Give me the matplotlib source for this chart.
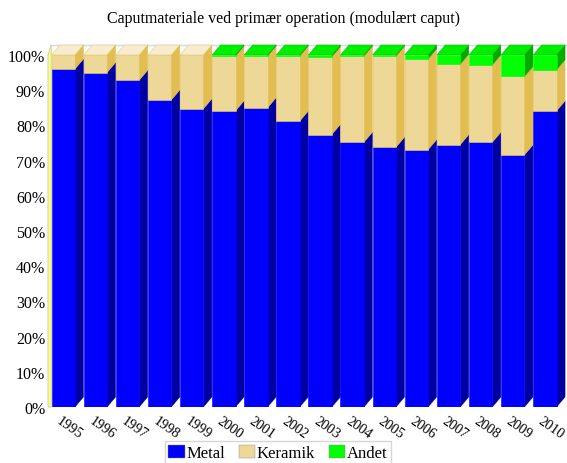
import matplotlib
matplotlib.use("Agg")
import matplotlib.pyplot as plt
from matplotlib.patches import Polygon, Patch

plt.rcParams['font.family'] = ['Liberation Serif', 'DejaVu Serif']

years = [1995, 1996, 1997, 1998, 1999, 2000, 2001, 2002,
         2003, 2004, 2005, 2006, 2007, 2008, 2009, 2010]
metal = [96.0, 95.0, 92.8, 87.2, 84.7, 84.1, 85.0, 81.2,
         77.4, 75.2, 73.8, 73.1, 74.5, 75.2, 71.6, 84.1]
keramik = [4.0, 5.0, 7.2, 12.8, 15.3, 15.6, 14.7, 18.5,
           22.1, 24.5, 25.9, 25.8, 22.9, 22.0, 22.3, 11.7]
andet = [0.0, 0.0, 0.0, 0.0, 0.0, 0.3, 0.3, 0.3,
         0.5, 0.3, 0.3, 1.1, 2.6, 2.8, 6.1, 4.2]

series = [('Metal', metal, '#0000FF', '#0000A0', '#2020FF'),
          ('Keramik', keramik, '#EED898', '#E2BD52', '#F6ECCF'),
          ('Andet', andet, '#00FF00', '#00AA00', '#00EE00')]

WIDTH = 0.73
DX = 0.265   # depth in bar units
DY = 2.84    # depth in percent units

fig = plt.figure(figsize=(5.67, 4.64), dpi=100)
ax = fig.add_axes([48 / 567, 56 / 464, 519 / 567, 362.6 / 464])
ax.set_xlim(-0.475, 15.69)
ax.set_ylim(0, 103)

# left wall and back edge
ax.add_patch(Polygon([(-0.475, 0), (-0.475, 100), (-0.475 + 0.1, 100 + DY),
                      (-0.475 + 0.1, DY), (-0.38, 0)],
                     closed=True, facecolor='#FFFF80', edgecolor='#C8C8A0',
                     lw=0.6, clip_on=False, zorder=1))
ax.plot([-0.38, 15.69], [100 + DY, 100 + DY], color='#D8D8D8', lw=1,
        zorder=0, clip_on=False)

x = list(range(len(years)))
for i in x:
    bottom = 0.0
    top_idx = max(k for k, s in enumerate(series) if s[1][i] > 0)
    for k, (name, vals, front, side, topc) in enumerate(series):
        v = vals[i]
        if v <= 0:
            continue
        ax.bar(i, v, width=WIDTH, bottom=bottom, color=front,
               edgecolor=side if k == 1 else front, lw=0.4, zorder=3)
        xr = i + WIDTH / 2
        ax.add_patch(Polygon([(xr, bottom), (xr + DX, bottom + DY),
                              (xr + DX, bottom + v + DY), (xr, bottom + v)],
                             closed=True, facecolor=side, edgecolor=side,
                             lw=0.3, zorder=2))
        if k == top_idx:
            xl = i - WIDTH / 2
            t = bottom + v
            ax.add_patch(Polygon([(xl, t), (xr, t), (xr + DX, t + DY),
                                  (xl + DX, t + DY)],
                                 closed=True, facecolor=topc, edgecolor=side,
                                 lw=0.3, zorder=2))
        bottom += v

for s in ax.spines.values():
    s.set_visible(False)
ax.set_yticks(range(0, 101, 10))
ax.set_yticklabels([f'{v}%' for v in range(0, 101, 10)], fontsize=11.5)
ax.set_xticks([i - 0.04 for i in x])
ax.set_xticklabels([str(y) for y in years], rotation=-35, ha='left',
                   va='top', rotation_mode='anchor', fontsize=10.2)
ax.tick_params(length=0, pad=2)
ax.tick_params(axis='x', pad=5)

fig.text(0.5, 1 - 19 / 464, 'Caputmateriale ved primær operation (modulært caput)',
         ha='center', va='center', fontsize=11.5)

handles = [Patch(facecolor=s[2], edgecolor='#888888', lw=0.3, label=s[0])
           for s in series]
fig.legend(handles=handles, loc='center', bbox_to_anchor=(0.49, 0.022), ncol=3,
           fontsize=12, frameon=True, fancybox=False, edgecolor='#CCCCCC',
           handlelength=1.0, handleheight=0.85, handletextpad=0.1,
           columnspacing=0.8, borderpad=0.2)

fig.savefig('out.png', dpi=100)
